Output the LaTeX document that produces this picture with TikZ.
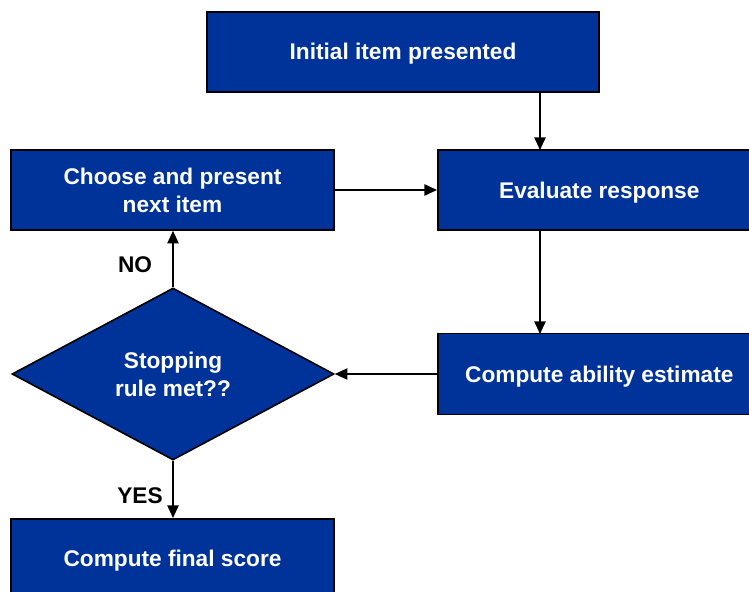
\documentclass[tikz,border=0pt]{standalone}
\usepackage{fontspec}
\setmainfont{Liberation Sans}
\usetikzlibrary{shapes.geometric,arrows.meta}
\definecolor{boxblue}{RGB}{0,51,153}
\tikzset{
  flowbox/.style={draw=black, line width=1.2pt, fill=boxblue, text=white,
    font=\fontsize{17}{21}\selectfont\bfseries, align=center, inner sep=0pt},
  oneline/.style={text height=14pt, text depth=2pt},
  decision/.style={diamond, draw=black, line width=1.2pt, fill=boxblue, text=white,
    font=\fontsize{17}{21}\selectfont\bfseries, align=center, inner sep=0pt},
  flowarrow/.style={draw=black, line width=1.2pt, -{Triangle[length=9.5pt,width=8.5pt]}},
  lbl/.style={font=\fontsize{17}{20}\selectfont\bfseries, text=black}
}
\begin{document}
\begin{tikzpicture}[x=0.75pt,y=-0.75pt]
\useasboundingbox (0,0) rectangle (749,592);
% boxes
\node[flowbox, oneline, minimum width=392*0.75pt, minimum height=80*0.75pt] (init) at (403,52) {Initial item presented};
\node[flowbox, minimum width=323*0.75pt, minimum height=80*0.75pt] (choose) at (172.5,190) {Choose and present\\next item};
\node[flowbox, oneline, minimum width=323*0.75pt, minimum height=80*0.75pt, anchor=west] (eval) at (437,190) {Evaluate response};
\node[flowbox, oneline, minimum width=323*0.75pt, minimum height=81*0.75pt, anchor=west] (abil) at (437,374) {Compute ability estimate};
\node[decision, minimum width=322*0.75pt, minimum height=172*0.75pt, aspect=1.87] (stop) at (173,374) {Stopping\\rule met??};
\node[flowbox, minimum width=323*0.75pt, minimum height=100*0.75pt, anchor=north] (final) at (172.5,518) {};
\node[font=\fontsize{17}{21}\selectfont\bfseries, text=white, oneline] (finaltext) at (172.5,558) {Compute final score};
% connectors
\coordinate (evtop) at (540,150);
\coordinate (evbot) at (540,230);
\coordinate (abtop) at (540,334);
\draw[flowarrow] (init.south -| evtop) -- (evtop);
\draw[flowarrow] (choose.east) -- (eval.west |- choose.east);
\draw[flowarrow] (evbot) -- (abtop);
\draw[flowarrow] (abil.west) -- (stop.east);
\draw[flowarrow] (stop.north) -- (choose.south -| stop.north);
\draw[flowarrow] (stop.south) -- (final.north -| stop.south);
% labels
\node[lbl, oneline] (no) at (135,264) {NO};
\node[lbl, oneline] (yes) at (140,495) {YES};
\end{tikzpicture}
\end{document}
